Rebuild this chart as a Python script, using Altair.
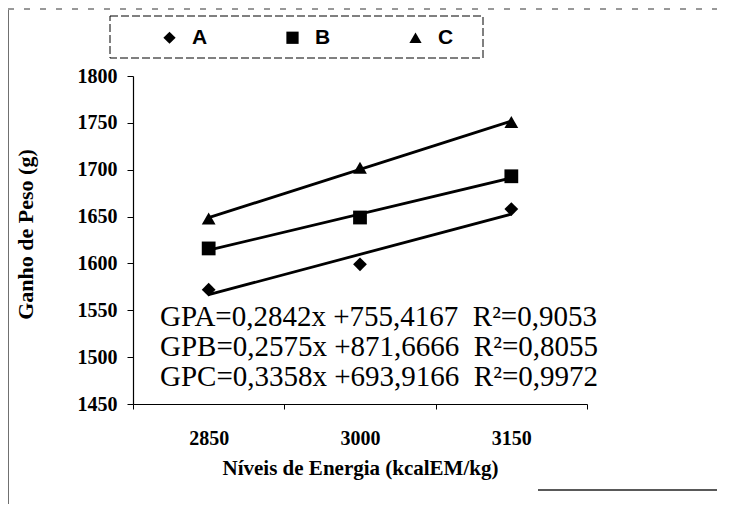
import altair as alt
import pandas as pd

# ---- data ----
energia = [2850, 3000, 3150]
grupos = ["A", "B", "C"]
ganho_A = [1572, 1599, 1658]
ganho_B = [1616, 1649, 1693]
ganho_C = [1648, 1702, 1751]
equacoes = [
    "GPA=0,2842x +755,4167\u00a0\u00a0R²=0,9053",
    "GPB=0,2575x +871,6666\u00a0\u00a0R²=0,8055",
    "GPC=0,3358x +693,9166\u00a0\u00a0R²=0,9972",
]
x_ticks = [2775, 2850, 2925, 3000, 3075, 3150, 3225]
y_ticks = [1450, 1500, 1550, 1600, 1650, 1700, 1750, 1800]

rows = []
for g, vals in zip(grupos, [ganho_A, ganho_B, ganho_C]):
    for e, v in zip(energia, vals):
        rows.append({"energia": e, "ganho": v, "grupo": g})
df = pd.DataFrame(rows)

SERIF = "Liberation Serif"

x_enc = alt.X(
    "energia:Q",
    scale=alt.Scale(domain=[2775, 3225], nice=False, zero=False),
    axis=alt.Axis(
        values=x_ticks,
        format="d",
        labelExpr="datum.value % 150 == 0 ? datum.label : ''",
        tickOpacity={"condition": {"test": "datum.value % 150 == 0", "value": 0}, "value": 1},
        labelOverlap=False,
        labelFlush=False,
        grid=False,
        tickSize=5,
        labelPadding=19,
        titlePadding=9,
        titleFontSize=21,
    ),
    title="Níveis de Energia (kcalEM/kg)",
)
y_enc = alt.Y(
    "ganho:Q",
    scale=alt.Scale(domain=[1450, 1800], nice=False, zero=False),
    axis=alt.Axis(values=y_ticks, format="d", grid=False, tickSize=6, labelPadding=10,
                  titleX=-96, titleY=158, titleFontSize=22),
    title="Ganho de Peso (g)",
)

pontos = alt.Chart(df).mark_point(filled=True, size=190, opacity=1, color="black").encode(
    x=x_enc,
    y=y_enc,
    shape=alt.Shape(
        "grupo:N",
        scale=alt.Scale(domain=grupos, range=["diamond", "square", "triangle-up"]),
        legend=alt.Legend(
            title=None, orient="none", legendX=26, legendY=-49, direction="horizontal",
            columns=3, columnPadding=74, symbolSize=150, labelOffset=12,
            symbolFillColor="black", symbolStrokeColor="black",
            labelFont="Liberation Sans", labelFontWeight="bold", labelFontSize=21,
            labelColor="black", padding=0,
        ),
    ),
)

linhas = alt.Chart(df).transform_regression(
    "energia", "ganho", groupby=["grupo"], extent=[2850, 3150]
).mark_line(color="black", strokeWidth=2.8).encode(
    x="energia:Q", y="ganho:Q", detail="grupo:N"
)

eq_layers = []
for i, eq in enumerate(equacoes):
    eq_layers.append(
        alt.Chart(pd.DataFrame({"t": [eq]})).mark_text(
            align="left", baseline="middle", font=SERIF, fontSize=29, color="black"
        ).encode(text="t:N", x=alt.value(27), y=alt.value(241 + 30 * i))
    )

caixa_legenda = alt.Chart(pd.DataFrame({"d": [0]})).mark_rect(
    fill="transparent", stroke="black", strokeWidth=1, strokeDash=[8, 3]
).encode(x=alt.value(-23), x2=alt.value(350), y=alt.value(-60), y2=alt.value(-18))

# outer frame of the scanned figure
bordas = [
    alt.Chart(pd.DataFrame({"d": [0]})).mark_rule(color="#333", strokeWidth=1, strokeDash=[6, 10]).encode(
        x=alt.value(-125), x2=alt.value(596), y=alt.value(-67)),
    alt.Chart(pd.DataFrame({"d": [0]})).mark_rule(color="#222", strokeWidth=1.3).encode(
        x=alt.value(-125), y=alt.value(-66), y2=alt.value(451)),
    alt.Chart(pd.DataFrame({"d": [0]})).mark_rule(color="#333", strokeWidth=1, strokeDash=[10, 4]).encode(
        x=alt.value(589), y=alt.value(-67), y2=alt.value(414)),
    alt.Chart(pd.DataFrame({"d": [0]})).mark_rule(color="#222", strokeWidth=1.3).encode(
        x=alt.value(405), x2=alt.value(596), y=alt.value(414)),
]

chart = alt.layer(*bordas, caixa_legenda, linhas, pontos, *eq_layers).properties(
    width=454, height=328, autosize=alt.AutoSizeParams(type="none"),
    padding={"left": 125, "top": 68, "right": 130, "bottom": 100},
).configure_view(stroke=None).configure_axis(
    domainColor="black", tickColor="black", labelColor="black", titleColor="black",
    labelFont=SERIF, labelFontWeight="bold", labelFontSize=20,
    titleFont=SERIF, titleFontWeight="bold", titleFontSize=20, domainWidth=1.2,
)

chart.save("out.html", embed_options={"renderer": "svg", "actions": False})
